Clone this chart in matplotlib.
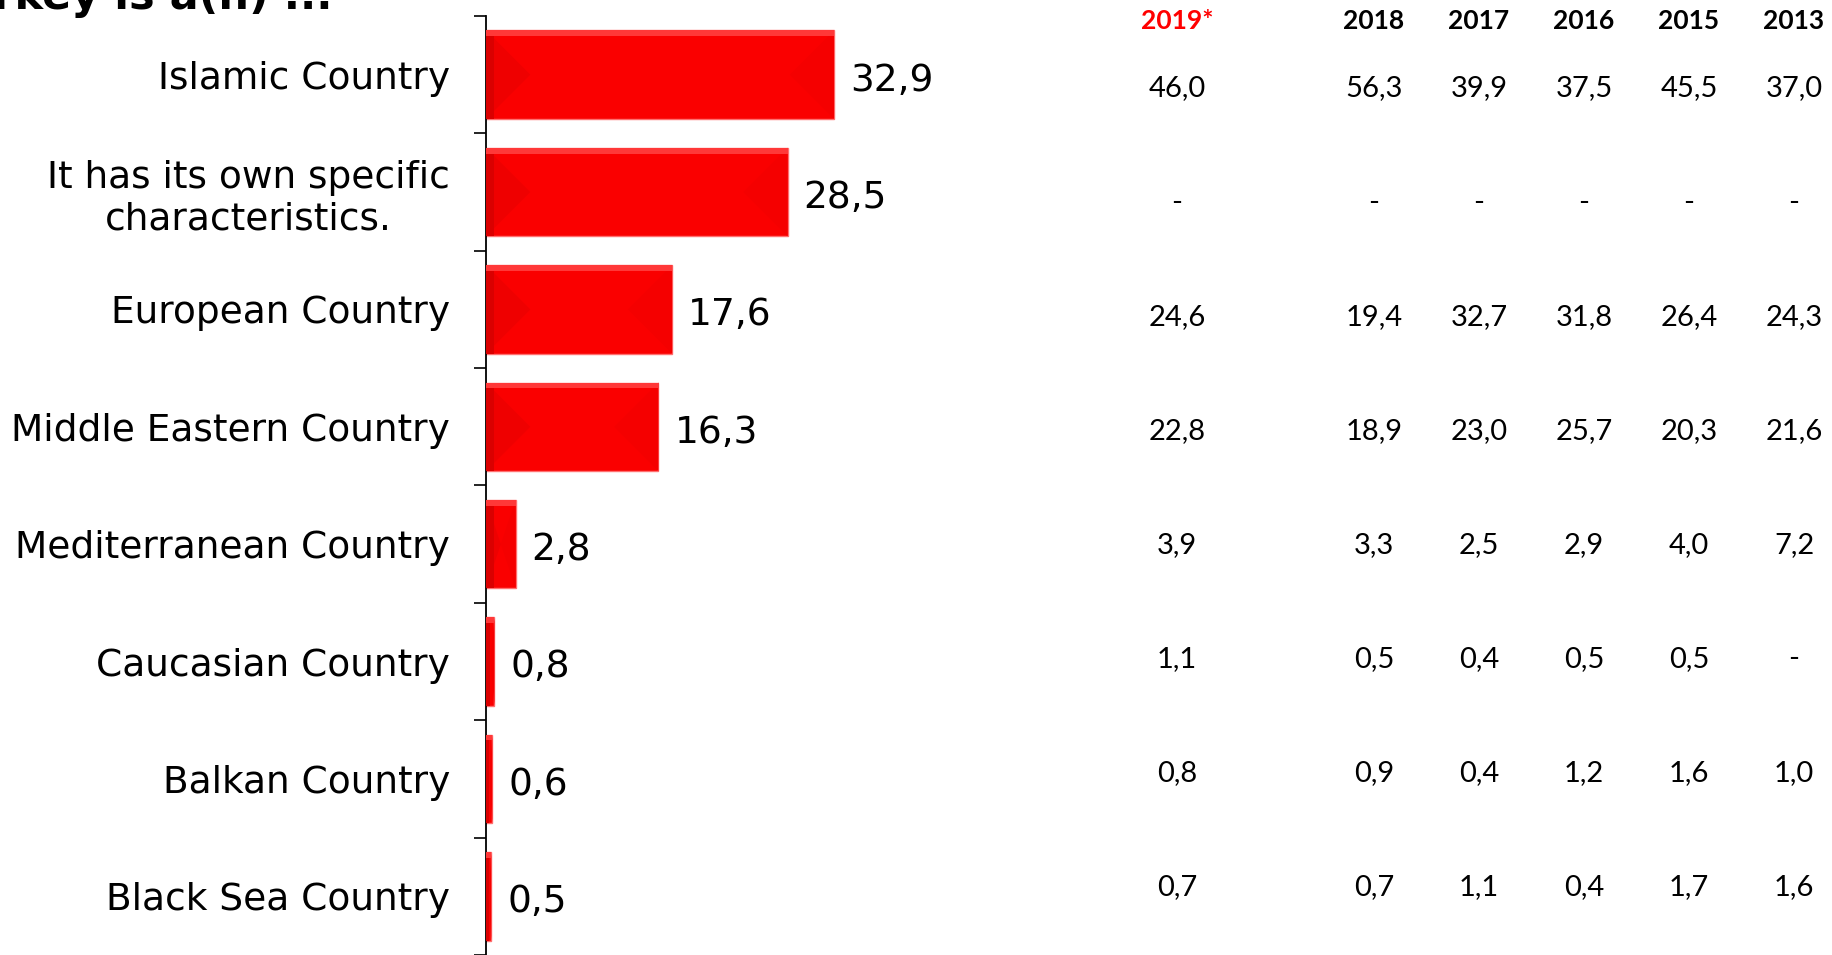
import numpy as np
import matplotlib
matplotlib.use("Agg")
import matplotlib.pyplot as plt

# data
categories = ["Islamic Country", "It has its own specific\ncharacteristics.",
              "European Country", "Middle Eastern Country", "Mediterranean Country",
              "Caucasian Country", "Balkan Country", "Black Sea Country"]
values_2019 = [32.9, 28.5, 17.6, 16.3, 2.8, 0.8, 0.6, 0.5]

years = ["2019*", "2018", "2017", "2016", "2015", "2013"]
table_rows = [
    ["46,0", "56,3", "39,9", "37,5", "45,5", "37,0"],
    ["-", "-", "-", "-", "-", "-"],
    ["24,6", "19,4", "32,7", "31,8", "26,4", "24,3"],
    ["22,8", "18,9", "23,0", "25,7", "20,3", "21,6"],
    ["3,9", "3,3", "2,5", "2,9", "4,0", "7,2"],
    ["1,1", "0,5", "0,4", "0,5", "0,5", "-"],
    ["0,8", "0,9", "0,4", "1,2", "1,6", "1,0"],
    ["0,7", "0,7", "1,1", "0,4", "1,7", "1,6"],
]
title = "Turkey is a(n) ..."

W, H = 1832, 955
fig = plt.figure(figsize=(W / 100, H / 100), dpi=100)

px_per_unit = 10.58
xmax = 50
ax = fig.add_axes([486 / W, 0, xmax * px_per_unit / W, 939 / H])

y = np.arange(len(categories))
bar_h = 0.755
ax.barh(y, values_2019, height=bar_h, color="#fa0000", edgecolor="#ff7070", linewidth=1.0, zorder=2)

# bevel look: slightly darker side triangles, soft light strip on top
px_per_y = 939 / 8
for yi, v in zip(y, values_2019):
    top, bot = yi - bar_h / 2, yi + bar_h / 2
    dx = min((bar_h / 2) * px_per_y / px_per_unit, v / 2)
    edge = min(8 / px_per_unit, v / 2)
    ax.fill([0, dx, 0], [top, yi, bot], color="#ef0000", lw=0, zorder=3)
    ax.fill([0, edge, edge, 0], [top, top, bot, bot], color="#da0000", lw=0, zorder=3)
    ax.fill([v, v - dx, v], [top, yi, bot], color="#f50000", lw=0, zorder=3)
    ax.fill([0, v, v, 0], [top, top, top + 0.05, top + 0.05], color="#ff3838", lw=0, zorder=4)
    ax.text(v + 16 / px_per_unit, yi + 0.05, f"{v:.1f}".replace(".", ","),
            fontsize=27, family="DejaVu Sans", va="center", ha="left", zorder=5)

ax.set_xlim(0, xmax)
ax.set_ylim(len(categories) - 0.5, -0.5)
ax.set_yticks(y)
ax.set_yticklabels(categories, fontsize=27, family="DejaVu Sans", multialignment="center")
ax.set_yticks(np.arange(len(categories) + 1) - 0.5, minor=True)
ax.tick_params(axis="y", which="major", length=0, pad=36 * 0.72)
ax.tick_params(axis="y", which="minor", length=9, width=1.2, color="black")
ax.set_xticks([])
for s in ["top", "right", "bottom"]:
    ax.spines[s].set_visible(False)
ax.spines["left"].set_linewidth(1.3)
ax.patch.set_visible(False)

# title, cut at top-left like the source
fig.text(-62 / W, 1 - 9 / H, title, fontsize=31, fontweight="bold",
         family="DejaVu Sans", va="baseline", ha="left")

# side table
col_x = [1177, 1374, 1479, 1584, 1689, 1794]
for j, yr in enumerate(years):
    fig.text(col_x[j] / W, 1 - 21 / H, yr, fontsize=19, fontweight="bold", family="Lato",
             color="#ff0000" if j == 0 else "black", ha="center", va="center")
for i, row in enumerate(table_rows):
    ry = 1 - (88.5 + i * 114.1) / H
    for j, cell in enumerate(row):
        fig.text(col_x[j] / W, ry, cell, fontsize=21, family="Lato", ha="center", va="center")

fig.savefig("out.png", dpi=100)
